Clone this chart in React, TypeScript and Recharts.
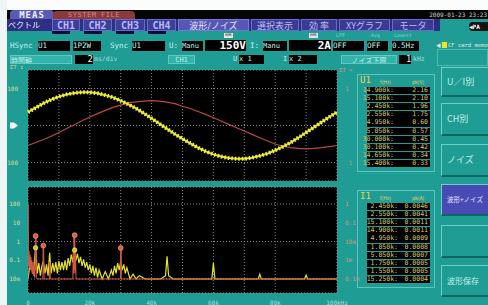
import { LineChart, ComposedChart, Line, Scatter, XAxis, YAxis, CartesianGrid } from "recharts";

// waveform (upper): time in ms, U in V, I in A
const TIME = [0, 0.5, 1, 1.5, 2, 2.5, 3, 3.5, 4, 4.5, 5, 5.5, 6, 6.5, 7, 7.5, 8, 8.5, 9, 9.5, 10, 10.5, 11, 11.5, 12, 12.5, 13, 13.5, 14, 14.5, 15, 15.5, 16, 16.5, 17, 17.5, 18, 18.5, 19, 19.5, 20];
const U_WAVE = [36, 48, 60, 70, 78, 84, 88, 90, 90, 87, 82, 76, 67, 57, 46, 33, 19, 5, -9, -23, -36, -48, -60, -70, -78, -84, -88, -90, -90, -87, -82, -76, -67, -57, -46, -33, -19, -5, 9, 23, 36];
const I_WAVE = [-0.54, -0.46, -0.38, -0.29, -0.19, -0.08, 0.02, 0.13, 0.23, 0.32, 0.41, 0.49, 0.55, 0.61, 0.64, 0.66, 0.67, 0.66, 0.63, 0.59, 0.52, 0.46, 0.38, 0.3, 0.21, 0.12, 0.03, -0.06, -0.15, -0.24, -0.33, -0.42, -0.5, -0.56, -0.6, -0.62, -0.63, -0.62, -0.6, -0.57, -0.54];

// noise spectrum (lower): frequency in kHz
const U_FREQ = [0, 0.05, 0.15, 0.3, 0.45, 0.6, 0.75, 0.9, 1.05, 1.2, 1.4, 1.6, 1.8, 2.0, 2.2, 2.45, 2.5, 2.55, 2.7, 3.0, 4.8, 4.95, 5.0, 5.05, 5.2, 7.0, 7.1, 7.2, 14.5, 14.65, 14.75, 14.9, 15.0, 15.1, 15.25, 15.4, 15.55, 29.9, 30.0, 30.05, 30.1, 30.2, 100];
const U_PK = [0.01, 90, 0.05, 0.3, 0.04, 0.2, 0.03, 0.15, 0.03, 0.1, 0.02, 0.08, 0.015, 0.05, 0.012, 1.96, 0.03, 1.75, 0.012, 0.01, 0.01, 0.6, 0.02, 0.57, 0.01, 0.01, 0.08, 0.01, 0.01, 0.34, 0.02, 2.16, 0.03, 2.18, 0.02, 0.33, 0.01, 0.01, 0.45, 0.02, 0.42, 0.01, 0.01];
const U_PEAK_FREQ = [2.45, 4.95, 15.1, 30.0];
const U_PEAK_PK = [1.96, 0.6, 2.18, 0.45];

const I_FREQ = [0, 0.5, 1, 1.5, 2, 2.45, 2.55, 3, 3.5, 4, 4.5, 4.95, 5.05, 5.5, 6, 6.5, 7, 7.5, 8, 8.5, 9, 9.5, 10, 10.5, 11, 11.5, 12, 12.5, 13, 13.5, 14, 14.5, 14.9, 15.1, 15.5, 16, 16.5, 17, 17.5, 18, 18.5, 19, 19.5, 20, 20.5, 21, 21.5, 22, 22.5, 23, 24, 25, 26, 27, 27.5, 28, 28.5, 29, 29.5, 30, 30.5, 31, 31.5, 32, 33, 34, 35, 36, 38, 40, 43, 44.5, 45, 45.5, 47, 59.5, 60, 60.5, 62, 74.5, 75, 75.5, 89.5, 90, 90.5, 100];
const I_PK = [0.0001, 0.0004, 0.0008, 0.0002, 0.0006, 0.0046, 0.0041, 0.0002, 0.0007, 0.00015, 0.0005, 0.0009, 0.0007, 0.0002, 0.0006, 0.00015, 0.0025, 0.0002, 0.0007, 0.00025, 0.0008, 0.0002, 0.0009, 0.0003, 0.0008, 0.0003, 0.001, 0.0003, 0.0013, 0.0005, 0.002, 0.0008, 0.003, 0.0035, 0.001, 0.0022, 0.0007, 0.0015, 0.0005, 0.0011, 0.0004, 0.0008, 0.0003, 0.0006, 0.0002, 0.0005, 0.00015, 0.0004, 0.00012, 0.0003, 0.0001, 0.00025, 0.0001, 0.0003, 0.00015, 0.0005, 0.0002, 0.0007, 0.0003, 0.0009, 0.0003, 0.0006, 0.0002, 0.0004, 0.0001, 0.00018, 0.0001, 0.00015, 0.0001, 0.0001, 0.0001, 0.00015, 0.0016, 0.00015, 0.0001, 0.0001, 0.0007, 0.0001, 0.0001, 0.0001, 0.00018, 0.0001, 0.0001, 0.00016, 0.0001, 0.0001];
const I_PEAK_FREQ = [2.45, 15.1];
const I_PEAK_PK = [0.0046, 0.0035];

const U_LOG_TICKS = [0.01, 0.1, 1, 10, 100];
const U_LOG_LABELS = ["10m", "0.1", "1", "10", "100"];
const I_LOG_TICKS = [0.0001, 0.001, 0.01, 0.1, 1];
const I_LOG_LABELS = ["0.1m", "1m", "10m", "0.1", "1"];
const F_LABELS = ["0", "", "20k", "", "40k", "", "60k", "", "80k", "", "100kHz"];

// peak tables
const U_TABLE_F = ["14.900k:", "15.100k:", "2.450k:", "2.550k:", "4.950k:", "5.050k:", "30.000k:", "30.100k:", "14.650k:", "15.400k:"];
const U_TABLE_PK = ["2.16", "2.10", "1.96", "1.75", "0.60", "0.57", "0.45", "0.42", "0.34", "0.33"];
const I_TABLE_F = ["2.450k:", "2.550k:", "15.100k:", "14.900k:", "4.950k:", "1.050k:", "5.050k:", "1.750k:", "1.550k:", "15.250k:"];
const I_TABLE_PK = ["0.0046", "0.0041", "0.0011", "0.0011", "0.0009", "0.0008", "0.0007", "0.0005", "0.0005", "0.0004"];

const TEAL = "#1f9d95";
const TEAL_LT = "#33b3a9";
const TXT = "#c4eeea";
const JP = '"Noto Sans CJK JP", "DejaVu Sans", sans-serif';
const MONO = '"DejaVu Sans Mono", "Liberation Mono", monospace';

const wave = TIME.map((t, i) => ({ t, u: U_WAVE[i], i: I_WAVE[i] }));
const uSpec = U_FREQ.map((f, i) => ({ f, v: U_PK[i] }));
const iSpec = I_FREQ.map((f, i) => ({ f, v: I_PK[i] }));
const uPeaks = U_PEAK_FREQ.map((f, i) => ({ f, v: U_PEAK_PK[i] }));
const iPeaks = I_PEAK_FREQ.map((f, i) => ({ f, v: I_PEAK_PK[i] }));

const Box = ({ x, y, w, h, bg = "transparent", c = TXT, fs = 8, al = "left", fw = 400, bd, ff = JP, ls, children, rad }: any) => (
  <div
    style={{
      position: "absolute",
      left: x,
      top: y,
      width: w,
      height: h,
      background: bg,
      color: c,
      fontSize: fs,
      lineHeight: h + "px",
      textAlign: al,
      fontWeight: fw,
      border: bd,
      boxSizing: "border-box",
      overflow: "hidden",
      whiteSpace: "nowrap",
      fontFamily: ff,
      letterSpacing: ls,
      borderRadius: rad,
    }}
  >
    {children}
  </div>
);

const Btn = ({ y, h, label, blue, fs = 9 }: any) => (
  <div
    style={{
      position: "absolute",
      left: 441,
      top: y,
      width: 47,
      height: h,
      boxSizing: "border-box",
      background: blue ? "#4a4ab4" : TEAL,
      borderTop: "1px solid #6fd0c8",
      borderLeft: "1px solid #6fd0c8",
      borderBottom: "2px solid #0d6660",
      color: blue ? "#e8e8ff" : TXT,
      fontFamily: JP,
      fontSize: fs,
      lineHeight: h - 3 + "px",
      paddingLeft: 5,
      whiteSpace: "nowrap",
      overflow: "hidden",
    }}
  >
    {label}
  </div>
);

const PeakTable = ({ y, name, unit, fs, pks, fRight, vRight }: any) => (
  <>
    <div style={{ position: "absolute", left: 357, top: y, width: 78, height: 98, border: "1px solid #5cc6be", boxSizing: "border-box" }} />
    <Box x={360} y={y + 2} w={14} h={9} c="#e6d25a" fs={9} ff={MONO}>{name}</Box>
    <Box x={380} y={y + 4} w={20} h={7} c="#e0cf6a" fs={5}>f(Hz)</Box>
    <Box x={412} y={y + 4} w={20} h={7} c="#e0cf6a" fs={5}>{unit}</Box>
    {fs.map((f: string, k: number) => (
      <div key={k} style={{ position: "absolute", left: 367, top: y + 13 + k * 8.1, width: 63, height: 7.3, background: "#000" }}>
        <div style={{ position: "absolute", right: 63 - fRight, top: 0, fontFamily: MONO, fontSize: 6.5, lineHeight: "7.3px", color: "#d8c46c" }}>{f}</div>
        <div style={{ position: "absolute", right: 63 - vRight, top: 0, fontFamily: MONO, fontSize: 6.5, lineHeight: "7.3px", color: "#d8c46c" }}>{pks[k]}</div>
      </div>
    ))}
  </>
);

const UTick = (p: any) => {
  const { x, y, payload } = p;
  if (payload.value === 0) {
    return (
      <g>
        <rect x={x - 10} y={y - 3} width={4} height={6} fill="#f4f4f4" />
        <polygon points={`${x - 6},${y - 3} ${x - 2},${y} ${x - 6},${y + 3}`} fill="#f4f4f4" />
      </g>
    );
  }
  if (Math.abs(payload.value) === 100) {
    return (
      <text x={x - 2} y={y} dy={2} textAnchor="end" fontSize={6} fill="#dcdc9a" fontFamily={MONO}>
        {payload.value}
      </text>
    );
  }
  return <g />;
};

export default function App() {
  return (
    <div style={{ position: "absolute", left: 0, top: 0, width: 488, height: 305, background: TEAL, overflow: "hidden", fontFamily: JP }}>
      {/* white edges of the photo */}
      <div style={{ position: "absolute", left: 0, top: 0, width: 488, height: 10, background: "#fbfdfd" }} />
      <div style={{ position: "absolute", left: 0, top: 0, width: 7, height: 305, background: "#eef6f5" }} />

      {/* top menu bar */}
      <Box x={7} y={10} w={481} h={9} bg="#050505" />
      <Box x={10} y={10} w={44} h={10} bg="#5a5ab4" c="#ececff" fs={9} fw={700} ff={MONO} al="center" ls={1} rad="4px 4px 0 0">MEAS</Box>
      <Box x={53} y={11} w={82} h={9} bg="#8a3a3c" c="#dc8484" fs={7} ff={MONO} al="center" rad="4px 4px 0 0" ls={0.5}>SYSTEM  FILE</Box>
      <Box x={420} y={10} w={67} h={9} c="#cfcfcf" fs={6} ff={MONO} al="right">2009-01-23 23:23</Box>

      <Box x={7} y={19} w={433} h={12} bg="#2e2e82" />
      <Box x={8} y={19} w={43} h={12} c="#ececff" fs={8}>ベクトル</Box>
      {[
        [52, 28, "CH1"],
        [83, 29, "CH2"],
        [115, 30, "CH3"],
        [147, 29, "CH4"],
      ].map(([x, w, t]: any) => (
        <Box key={t} x={x} y={19} w={w} h={12} bg="#3d3d9a" c="#b8b8ff" fs={10} fw={700} ff={MONO} al="center" bd="1px solid #6a6ac8">{t}</Box>
      ))}
      {[52, 84, 116, 148].map((x) => (
        <Box key={x} x={x} y={31} w={18} h={3} bg="#0e0e38" />
      ))}
      <Box x={178} y={19} w={71} h={12} bg="#5656b6" c="#e4e4ff" fs={9} al="center" bd="1px solid #7878d0">波形/ノイズ</Box>
      <Box x={251} y={19} w={48} h={12} bg="#3a3a94" c="#bcbcf4" fs={9} al="center" bd="1px solid #6a6ac8">選択表示</Box>
      <Box x={301} y={19} w={36} h={12} bg="#3a3a94" c="#bcbcf4" fs={9} al="center" bd="1px solid #6a6ac8">効 率</Box>
      <Box x={339} y={19} w={51} h={12} bg="#3a3a94" c="#bcbcf4" fs={9} al="center" bd="1px solid #6a6ac8">XYグラフ</Box>
      <Box x={392} y={19} w={42} h={12} bg="#3a3a94" c="#bcbcf4" fs={9} al="center" bd="1px solid #6a6ac8">モータ</Box>
      <Box x={469} y={22} w={19} h={9} bg="#141414" c="#ffffff" fs={6} fw={700} ff={MONO} rad="4px 0 0 4px">◀PA</Box>

      {/* setting row */}
      <Box x={224} y={33} w={9} h={5} bg="#e6e6e6" c="#000" fs={3.5} ff={MONO} al="center">RMS</Box>
      <Box x={309} y={33} w={9} h={5} bg="#e6e6e6" c="#000" fs={3.5} ff={MONO} al="center">RMS</Box>
      <Box x={336} y={32} w={14} h={7} c="#79d6cf" fs={5} ff={MONO}>LPF</Box>
      <Box x={371} y={32} w={14} h={7} c="#79d6cf" fs={5} ff={MONO}>Avg</Box>
      <Box x={394} y={32} w={22} h={7} c="#79d6cf" fs={5} ff={MONO}>Lowest</Box>

      <Box x={10} y={41} w={28} h={10} fs={7.5} ff={MONO}>HSync</Box>
      <Box x={38} y={41} w={32} h={10} bg="#000" fs={7.5} ff={MONO}>U1</Box>
      <Box x={73} y={41} w={28} h={10} bg="#000" fs={7.5} ff={MONO}>1P2W</Box>
      <Box x={110} y={41} w={22} h={10} fs={7.5} ff={MONO}>Sync</Box>
      <Box x={132} y={41} w={33} h={10} bg="#000" fs={7.5} ff={MONO}>U1</Box>
      <Box x={169} y={41} w={12} h={10} fs={7.5} ff={MONO}>U:</Box>
      <Box x={182} y={41} w={21} h={10} bg="#000" fs={7} ff={MONO}>Manu</Box>
      <Box x={205} y={40} w={41} h={11} bg="#000" c="#ffffff" fs={11} fw={700} ff={MONO} al="right">150V</Box>
      <Box x={250} y={41} w={10} h={10} fs={7.5} ff={MONO}>I:</Box>
      <Box x={263} y={41} w={24} h={10} bg="#000" fs={7} ff={MONO}>Manu</Box>
      <Box x={289} y={40} w={42} h={11} bg="#000" c="#ffffff" fs={11} fw={700} ff={MONO} al="right">2A</Box>
      <Box x={333} y={41} w={31} h={10} bg="#000" fs={7.5} ff={MONO}>OFF</Box>
      <Box x={367} y={41} w={21} h={10} bg="#000" fs={7.5} ff={MONO}>OFF</Box>
      <Box x={392} y={41} w={27} h={10} bg="#000" fs={7.5} ff={MONO}>0.5Hz</Box>
      <Box x={436} y={41} w={6} h={8} c="#e8e8e8" fs={5}>◀</Box>
      <Box x={442} y={42} w={5} h={6} bg="#f2e224" />
      <Box x={448} y={41} w={40} h={8} c="#e8e8e8" fs={5.5} ff={MONO}>CF card memo</Box>
      <div style={{ position: "absolute", left: 437, top: 49, width: 51, height: 17, border: "1px solid #4fb8b0", boxSizing: "border-box" }} />

      {/* time row */}
      <Box x={10} y={55} w={62} h={9} bg={TEAL_LT} bd="1px solid #5ccac2" fs={7}>時間軸</Box>
      <Box x={75} y={55} w={18} h={9} bg="#000" c="#fff" fs={9} ff={MONO} al="right">2</Box>
      <Box x={94} y={55} w={32} h={9} fs={6.5} ff={MONO} c="#a6dcdc">ms/div</Box>
      <Box x={168} y={55} w={27} h={9} bg={TEAL_LT} bd="1px solid #5ccac2" fs={7} ff={MONO} al="center">CH1</Box>
      <Box x={233} y={55} w={6} h={9} fs={7} ff={MONO}>U</Box>
      <Box x={239} y={55} w={25} h={9} bg="#000" fs={7} ff={MONO}>x 1</Box>
      <Box x={283} y={55} w={6} h={9} fs={7} ff={MONO}>I</Box>
      <Box x={289} y={55} w={28} h={9} bg="#000" fs={7} ff={MONO}>x 2</Box>
      <Box x={341} y={55} w={56} h={9} bg={TEAL_LT} bd="1px solid #5ccac2" fs={7} al="center">ノイズ下限</Box>
      <Box x={399} y={55} w={12} h={9} bg="#000" c="#fff" fs={8} ff={MONO} al="right">1</Box>
      <Box x={413} y={55} w={16} h={9} fs={6.5} ff={MONO} c="#a6dcdc">kHz</Box>

      {/* waveform */}
      <Box x={10} y={64} w={16} h={7} c="#dcdc9a" fs={5.5} ff={MONO}>ΣT ↕</Box>
      <Box x={339} y={67} w={16} h={7} c="#d89494" fs={5.5} ff={MONO}>ΣT ≈</Box>
      <LineChart width={360} height={121} data={wave} margin={{ top: 10, right: 0, bottom: 0, left: 0 }} style={{ position: "absolute", left: 0, top: 60 }}>
        <CartesianGrid fill="#000" stroke="#8a8a8a" strokeDasharray="1 2" />
        <XAxis dataKey="t" type="number" domain={[0, 20]} ticks={[2, 4, 6, 8, 10, 12, 14, 16, 18]} hide />
        <YAxis type="number" domain={[-150, 150]} ticks={[-100, -50, 0, 50, 100]} width={28} axisLine={false} tickLine={false} tick={UTick} />
        <YAxis yAxisId="i" orientation="right" type="number" domain={[-1.5, 1.5]} ticks={[-1, 1]} width={23} axisLine={false} tickLine={false} tick={{ fill: "#d88a8a", fontSize: 6, fontFamily: MONO }} />
        <Line yAxisId="i" dataKey="i" stroke="#b84848" strokeWidth={1.2} dot={false} isAnimationActive={false} />
        <Line dataKey="u" stroke="#e0e028" strokeWidth={2} dot={false} isAnimationActive={false} />
        <Line dataKey="u" stroke="#f4f438" strokeWidth={4} strokeDasharray="1.5 2" dot={false} isAnimationActive={false} />
      </LineChart>

      {/* spectrum */}
      <ComposedChart width={360} height={125} margin={{ top: 7, right: 0, bottom: 0, left: 0 }} style={{ position: "absolute", left: 0, top: 180 }}>
        <CartesianGrid fill="#000" stroke="#8a8a8a" strokeDasharray="1 2" />
        <XAxis
          dataKey="f"
          type="number"
          domain={[0, 100]}
          ticks={[0, 10, 20, 30, 40, 50, 60, 70, 80, 90, 100]}
          tickFormatter={(v: number) => F_LABELS[Math.round(v / 10)]}
          height={12}
          axisLine={false}
          tickLine={false}
          tick={{ fill: "#a6dede", fontSize: 6, fontFamily: MONO }}
          allowDataOverflow
        />
        <YAxis
          type="number"
          scale="log"
          domain={[0.00179, 807]}
          ticks={U_LOG_TICKS}
          tickFormatter={(v: number) => U_LOG_LABELS[U_LOG_TICKS.findIndex((t) => Math.abs(t - v) < t * 0.01)]}
          width={28}
          axisLine={false}
          tickLine={false}
          tick={{ fill: "#dcdc9a", fontSize: 6, fontFamily: MONO }}
          allowDataOverflow
        />
        <YAxis
          yAxisId="i"
          orientation="right"
          type="number"
          scale="log"
          domain={[0.0000179, 8.07]}
          ticks={I_LOG_TICKS}
          tickFormatter={(v: number) => I_LOG_LABELS[I_LOG_TICKS.findIndex((t) => Math.abs(t - v) < t * 0.01)]}
          width={23}
          axisLine={false}
          tickLine={false}
          tick={{ fill: "#d8907e", fontSize: 6, fontFamily: MONO }}
          allowDataOverflow
        />
        <Line yAxisId="i" data={iSpec} dataKey="v" stroke="#e4e428" strokeWidth={1.2} dot={false} isAnimationActive={false} />
        <Line data={uSpec} dataKey="v" stroke="#d05a40" strokeWidth={1} dot={false} isAnimationActive={false} />
        <Scatter
          yAxisId="i"
          data={iPeaks}
          dataKey="v"
          isAnimationActive={false}
          shape={(p: any) => <circle cx={p.cx} cy={p.cy} r={2.2} fill="#c8c820" stroke="#f0f060" strokeWidth={0.8} />}
        />
        <Scatter
          data={uPeaks}
          dataKey="v"
          isAnimationActive={false}
          shape={(p: any) => <circle cx={p.cx} cy={p.cy} r={2.4} fill="#d86040" stroke="#f09a70" strokeWidth={0.8} />}
        />
      </ComposedChart>

      {/* peak tables */}
      <PeakTable y={74} name="U1" unit="pk(V)" fs={U_TABLE_F} pks={U_TABLE_PK} fRight={27} vRight={61} />
      <PeakTable y={190} name="I1" unit="pk(A)" fs={I_TABLE_F} pks={I_TABLE_PK} fRight={31} vRight={61} />

      {/* side buttons */}
      <Btn y={67} h={30} label="U／I別" />
      <Btn y={103} h={33} label="CH別" />
      <Btn y={144} h={33} label="ノイズ" />
      <Btn y={184} h={32} label="波形+ノイズ" blue fs={6.5} />
      <Btn y={225} h={33} label="" />
      <Btn y={265} h={32} label="波形保存" fs={8} />
    </div>
  );
}
